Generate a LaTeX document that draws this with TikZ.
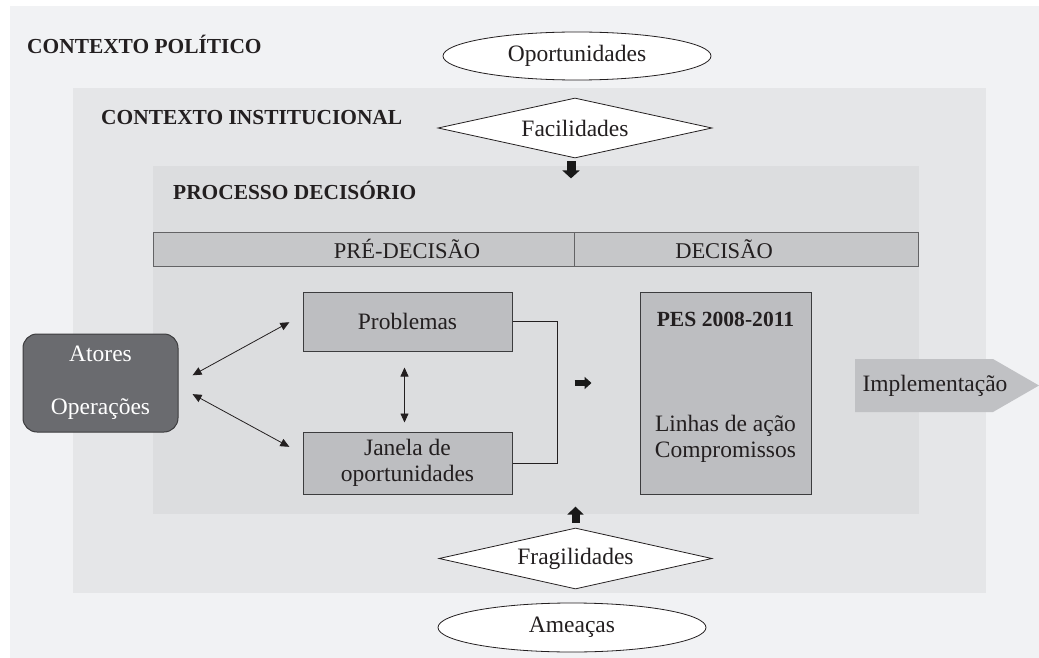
\documentclass[tikz,border=0pt]{standalone}
\usepackage{fontspec}
\setmainfont{Liberation Serif}
\usetikzlibrary{shapes.geometric,arrows.meta,calc}
\definecolor{outerbg}{HTML}{F1F2F4}
\definecolor{instbg}{HTML}{E5E6E8}
\definecolor{procbg}{HTML}{DCDDDF}
\definecolor{barfill}{HTML}{C6C7C9}
\definecolor{boxfill}{HTML}{BDBEC1}
\definecolor{atorfill}{HTML}{6A6B6F}
\definecolor{implfill}{HTML}{C0C1C4}
\definecolor{ink}{HTML}{231F20}
\definecolor{edgec}{HTML}{3C3C3E}
\begin{document}
\begin{tikzpicture}[x=1pt,y=-1pt,
  body/.style={font=\fontsize{23.5}{26}\selectfont, text=ink},
  titletext/.style={font=\fontsize{21.4}{24}\selectfont\bfseries, text=ink, anchor=base west, inner sep=0pt},
  headtext/.style={font=\fontsize{22.5}{25}\selectfont, text=ink},
  cell/.style={rectangle, draw=edgec!80, line width=1pt, fill=barfill, anchor=north west, minimum height=34pt, inner sep=0pt},
  graybox/.style={rectangle, draw=edgec, line width=1pt, fill=boxfill, inner sep=0pt, body, align=center},
  ovalbox/.style={ellipse, draw=ink, line width=0.8pt, fill=white, inner sep=0pt, body},
  diabox/.style={diamond, draw=ink, line width=0.8pt, fill=white, inner sep=0pt, aspect=4.5, body},
  dbl/.style={{Triangle[length=9pt,width=8pt]}-{Triangle[length=9pt,width=8pt]}, line width=0.8pt, draw=ink},
  blk/.style={draw=black!90, -{Triangle[length=8pt,width=17pt]}},
  thinline/.style={draw=ink, line width=0.8pt}
]
\useasboundingbox (0,0) rectangle (1039,658);
\fill[white] (0,0) rectangle (1039,658);
\fill[outerbg] (10,6) rectangle (1039,658);
\fill[instbg] (73,88) rectangle (986,593);
\fill[procbg] (153,166) rectangle (919,514);

% titles
\node[titletext] (tpol) at (27,54) {CONTEXTO POLÍTICO};
\node[titletext] (tinst) at (101,125) {CONTEXTO INSTITUCIONAL};
\node[titletext] (tproc) at (173,200) {PROCESSO DECISÓRIO};

% header bar
\node[cell, minimum width=421pt] (pre) at (153,232) {};
\node[cell, minimum width=344pt] (dec) at (574,232) {};
\node[headtext] (pretxt) at (407,249) {PRÉ-DECISÃO};
\node[headtext] (dectxt) at (724,249) {DECISÃO};

% ellipses and diamonds
\node[ovalbox, minimum width=268pt, minimum height=48pt] (oport) at (577,56) {Oportunidades};
\node[diabox, minimum width=274pt, minimum height=60pt] (facil) at (575,128) {Facilidades};
\node[diabox, minimum width=273pt, minimum height=61pt] (fragil) at (575.5,558.5) {Fragilidades};
\node[ovalbox, minimum width=268pt, minimum height=49pt] (ameac) at (572,627.5) {Ameaças};

% actors
\node[rectangle, rounded corners=14pt, draw=edgec, line width=1pt, fill=atorfill,
  minimum width=155pt, minimum height=98pt, body, text=white, align=center, inner sep=0pt]
  (atores) at (100.5,383) {Atores\\[27pt]Operações};

% problem boxes
\node[graybox, minimum width=209pt, minimum height=59pt] (prob) at (407.5,321.5) {Problemas};
\node[graybox, minimum width=209pt, minimum height=62pt] (jan) at (407.5,463) {Janela de\\oportunidades};

% PES box
\node[graybox, minimum width=171pt, minimum height=202pt] (pes) at (725.5,393) {};
\node[font=\fontsize{21.6}{24}\selectfont\bfseries, text=ink] (pestitle) at ($(pes.north)+(0,28)$) {PES 2008-2011};
\node[body, align=center] (pesbody) at ($(pes.north)+(0,147.5)$) {Linhas de ação\\Compromissos};

% implementation
\fill[implfill] (855,359) -- (993,359) -- (1039,385.5) -- (993,412) -- (855,412) -- cycle;
\node[body] (impl) at (935,385.5) {Implementação};

% connectors
\draw[dbl, shorten <=16pt, shorten >=15pt] (atores.east) -- ($(prob.west)+(0,-6.5)$);
\draw[dbl, shorten <=16pt, shorten >=15pt] ($(atores.east)+(0,3.5)$) -- ($(jan.west)+(0,-9)$);
\draw[dbl, shorten <=16pt, shorten >=9pt] ($(prob.south)+(-3,0)$) -- ($(jan.north)+(-3,0)$);
\draw[thinline] (prob.east) -- ++(45,0) |- (jan.east);

\draw[blk, line width=9pt] ($(facil.south)+(-4,3)$) -- ++(0,17);
\draw[blk, line width=8pt, -{Triangle[length=8pt,width=16pt]}] ($(fragil.north)+(0,-5)$) -- ++(0,-16);
\coordinate (ra) at ($(pes.west)+(-65,-10)$);
\draw[draw=black!90, line width=6pt, -{Triangle[length=7pt,width=12pt]}] (ra) -- ++(17,0);
\end{tikzpicture}
\end{document}
